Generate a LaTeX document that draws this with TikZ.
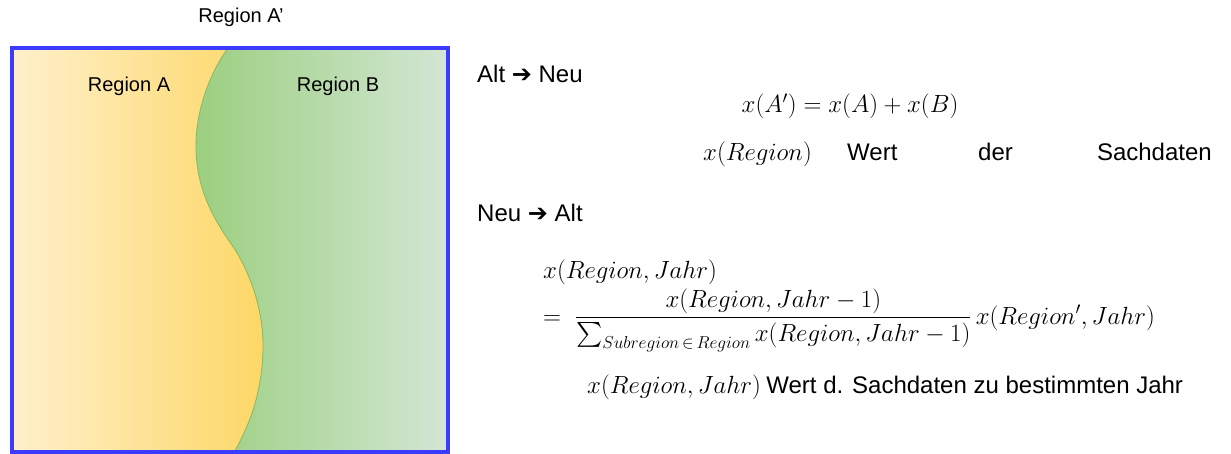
\documentclass[tikz,border=0pt]{standalone}
\usepackage{amsmath}
\usepackage{fontspec}
\setmainfont{Liberation Sans}
\newfontfamily\arrowfont{DejaVu Sans}
\usetikzlibrary{positioning}

\definecolor{boxblue}{HTML}{3B3BFF}
\definecolor{yellowlight}{HTML}{FEF0CC}
\definecolor{yellowdark}{HTML}{FDD766}
\definecolor{greendark}{HTML}{9BCF7F}
\definecolor{greenlight}{HTML}{D3E6D4}
\definecolor{borderline}{HTML}{88B865}

\begin{document}
\begin{tikzpicture}[x=1pt, y=-1pt,
    region_label/.style={font=\fontsize{20}{24}\selectfont, inner sep=0pt},
    body_text/.style={font=\fontsize{24}{28}\selectfont, inner sep=0pt, anchor=base west},
    formula/.style={font=\fontsize{25}{29}\selectfont, inner sep=0pt, anchor=base west},
    boundary/.style={draw=borderline, line width=0.8pt}]

    \useasboundingbox (0,0) rectangle (1231,454);

    % points of the border line between A and B
    \coordinate (top) at (228,48);
    \coordinate (bulgeL) at (196,150);
    \coordinate (mid) at (232,245);
    \coordinate (bulgeR) at (263,350);
    \coordinate (bottom) at (233,454);

    \shade[left color=yellowlight, right color=yellowdark] (12,48) rectangle (264,454);
    \shade[left color=greendark, right color=greenlight]
        (top) .. controls (205,80) and (195,120) .. (bulgeL)
        .. controls (197,190) and (214,220) .. (mid)
        .. controls (250,272) and (264,310) .. (bulgeR)
        .. controls (262,392) and (250,425) .. (bottom)
        -- (447,454) -- (447,48) -- cycle;
    \draw[boundary] (top) .. controls (205,80) and (195,120) .. (bulgeL)
        .. controls (197,190) and (214,220) .. (mid)
        .. controls (250,272) and (264,310) .. (bulgeR)
        .. controls (262,392) and (250,425) .. (bottom);
    \draw[boxblue, line width=4pt] (11.5,48) rectangle (448,452);

    \node[region_label] (regionAp) at (241,17) {Region A'};
    \node[region_label] (regionA) at (129,86) {Region A};
    \node[region_label] (regionB) at (338,86) {Region B};

    % old -> new
    \node[body_text] (altneu) at (477,83) {Alt {\arrowfont ➔} Neu};
    \node[formula, anchor=base] (sumAB) at (850,113) {$x(A')=x(A)+x(B)$};
    \node[formula] (xregion) at (703,161) {$x(Region)$};
    \node[body_text] (wert) at (847,161) {Wert};
    \node[body_text] (der) at (978,161) {der};
    \node[body_text, anchor=base east] (sachdaten) at (1212,161) {Sachdaten};

    % new -> old
    \node[body_text] (neualt) at (477,222) {Neu {\arrowfont ➔} Alt};
    \node[formula] (xregjahr) at (543,279) {$x(Region,Jahr)$};
    \node[formula] (ratio) at (543,324)
        {$=\ \dfrac{x(Region,Jahr-1)}{\sum_{Subregion\,\in\,Region} x(Region,Jahr-1)}\,x(Region',Jahr)$};
    \node[formula] (xregjahrB) at (587,393) {$x(Region,Jahr)$};
    \node[body_text] (werttext) at ([xshift=5pt]xregjahrB.base east) {Wert d. Sachdaten zu bestimmten Jahr};

\end{tikzpicture}
\end{document}
